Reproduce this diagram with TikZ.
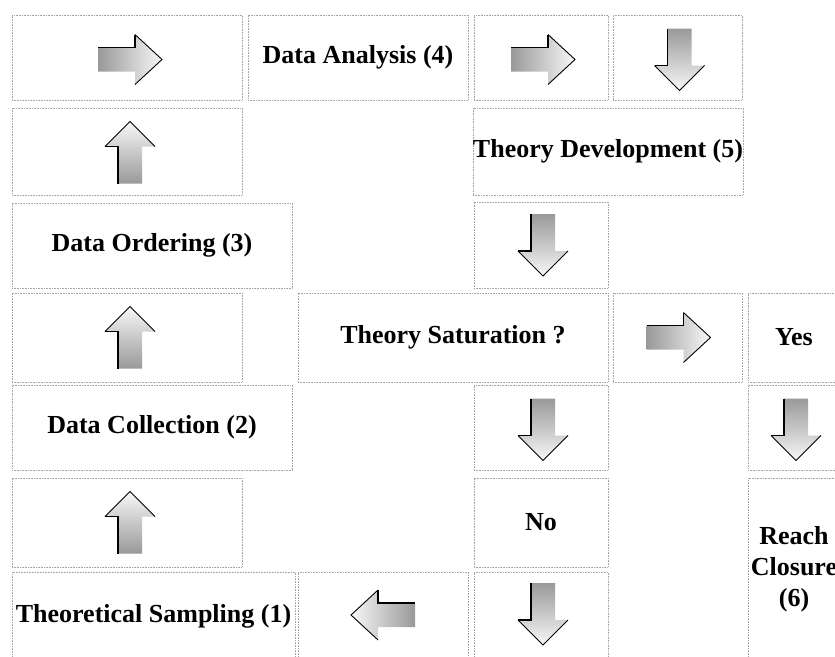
\documentclass[tikz,border=0pt]{standalone}
\usepackage{fontspec}
\setmainfont{Liberation Serif}
\tikzset{
  cell/.style={draw=black!35, densely dotted, line width=0.6pt, inner sep=0pt,
    font=\fontsize{26}{31}\selectfont\bfseries, align=center},
  thickedge/.style={line width=1.8pt, line join=miter},
  thinedge/.style={line width=0.9pt, line join=miter},
  rarrow/.pic={
    \shade[left color=black!40, right color=black!3] (-32,-12) -- (5,-12) -- (5,-25) -- (32,0) -- (5,25) -- (5,12) -- (-32,12) -- cycle;
    \draw[thickedge] (-32,-12) -- (5,-12) -- (5,-25);
    \draw[thinedge] (5,-25) -- (32,0) -- (5,25);
  },
  larrow/.pic={
    \shade[right color=black!40, left color=black!3] (32,-12) -- (-5,-12) -- (-5,-25) -- (-32,0) -- (-5,25) -- (-5,12) -- (32,12) -- cycle;
    \draw[thickedge] (32,-12) -- (-5,-12) -- (-5,-25);
    \draw[thinedge] (-5,-25) -- (-32,0) -- (-5,25);
  },
  uarrow/.pic={
    \shade[bottom color=black!40, top color=black!3] (-12,31) -- (-12,-6) -- (-25,-6) -- (0,-31) -- (25,-6) -- (12,-6) -- (12,31) -- cycle;
    \draw[thickedge] (-12,31) -- (-12,-6) -- (-25,-6);
    \draw[thinedge] (-25,-6) -- (0,-31) -- (25,-6);
  },
  darrow/.pic={
    \shade[top color=black!40, bottom color=black!3] (-12,-31) -- (-12,6) -- (-25,6) -- (0,31) -- (25,6) -- (12,6) -- (12,-31) -- cycle;
    \draw[thickedge] (-12,-31) -- (-12,6) -- (-25,6);
    \draw[thinedge] (-25,6) -- (0,31) -- (25,6);
  },
}
\begin{document}
\begin{tikzpicture}[x=1pt,y=-1pt]
\useasboundingbox (0,0) rectangle (835,656);
\fill[white] (0,0) rectangle (835,656);
\clip (0,0) rectangle (835,656);
%row 1
\node[cell, minimum width=230pt, minimum height=85pt] (arA) at (127,57.5) {};
\node[cell, minimum width=220pt, minimum height=85pt] (ana) at (358,57.5) {Data Analysis (4)};
\node[cell, minimum width=134pt, minimum height=85pt] (arB) at (541,57.5) {};
\node[cell, minimum width=129pt, minimum height=85pt] (arC) at (677.5,57.5) {};
%row 2
\node[cell, minimum width=230pt, minimum height=87pt] (arD) at (127,151.5) {};
\node[cell, minimum width=268pt, minimum height=87pt] (dev) at (608,151.5) {Theory Development (5)};
%row 3
\node[cell, minimum width=280pt, minimum height=85pt] (ord) at (152,245.5) {Data Ordering (3)};
\node[cell, minimum width=134pt, minimum height=86pt] (arE) at (541,245) {};
%row 4
\node[cell, minimum width=230pt, minimum height=89pt] (arF) at (127,337.5) {};
\node[cell, minimum width=310pt, minimum height=89pt] (sat) at (453,337.5) {Theory Saturation ?};
\node[cell, minimum width=129pt, minimum height=89pt] (arG) at (677.5,337.5) {};
\node[cell, minimum width=92pt, minimum height=89pt] (yes) at (794,337.5) {Yes};
%row 5
\node[cell, minimum width=280pt, minimum height=85pt] (col) at (152,427.5) {Data Collection (2)};
\node[cell, minimum width=134pt, minimum height=85pt] (arH) at (541,427.5) {};
\node[cell, minimum width=92pt, minimum height=85pt] (arI) at (794,427.5) {};
%row 6
\node[cell, minimum width=230pt, minimum height=89pt] (arJ) at (127,522.5) {};
\node[cell, minimum width=134pt, minimum height=89pt] (no) at (541,522.5) {No};
\node[cell, minimum width=92pt, minimum height=182pt] (clo) at (794,569) {Reach\\Closure\\(6)};
%row 7
\node[cell, minimum width=283pt, minimum height=88pt] (samp) at (153.5,616) {Theoretical Sampling (1)};
\node[cell, minimum width=170pt, minimum height=88pt] (arK) at (383,616) {};
\node[cell, minimum width=134pt, minimum height=88pt] (arL) at (541,616) {};
%arrows
\pic at ([shift={(3,2)}]arA) {rarrow};
\pic at ([shift={(2,2)}]arB) {rarrow};
\pic at ([shift={(2,2)}]arC) {darrow};
\pic at ([shift={(3,1)}]arD) {uarrow};
\pic at ([shift={(2,0)}]arE) {darrow};
\pic at ([shift={(3,0)}]arF) {uarrow};
\pic at ([shift={(1,0)}]arG) {rarrow};
\pic at ([shift={(2,2)}]arH) {darrow};
\pic at ([shift={(2,2)}]arI) {darrow};
\pic at ([shift={(3,0)}]arJ) {uarrow};
\pic at ([shift={(0,-1)}]arK) {larrow};
\pic at ([shift={(2,-2)}]arL) {darrow};
\end{tikzpicture}
\end{document}
